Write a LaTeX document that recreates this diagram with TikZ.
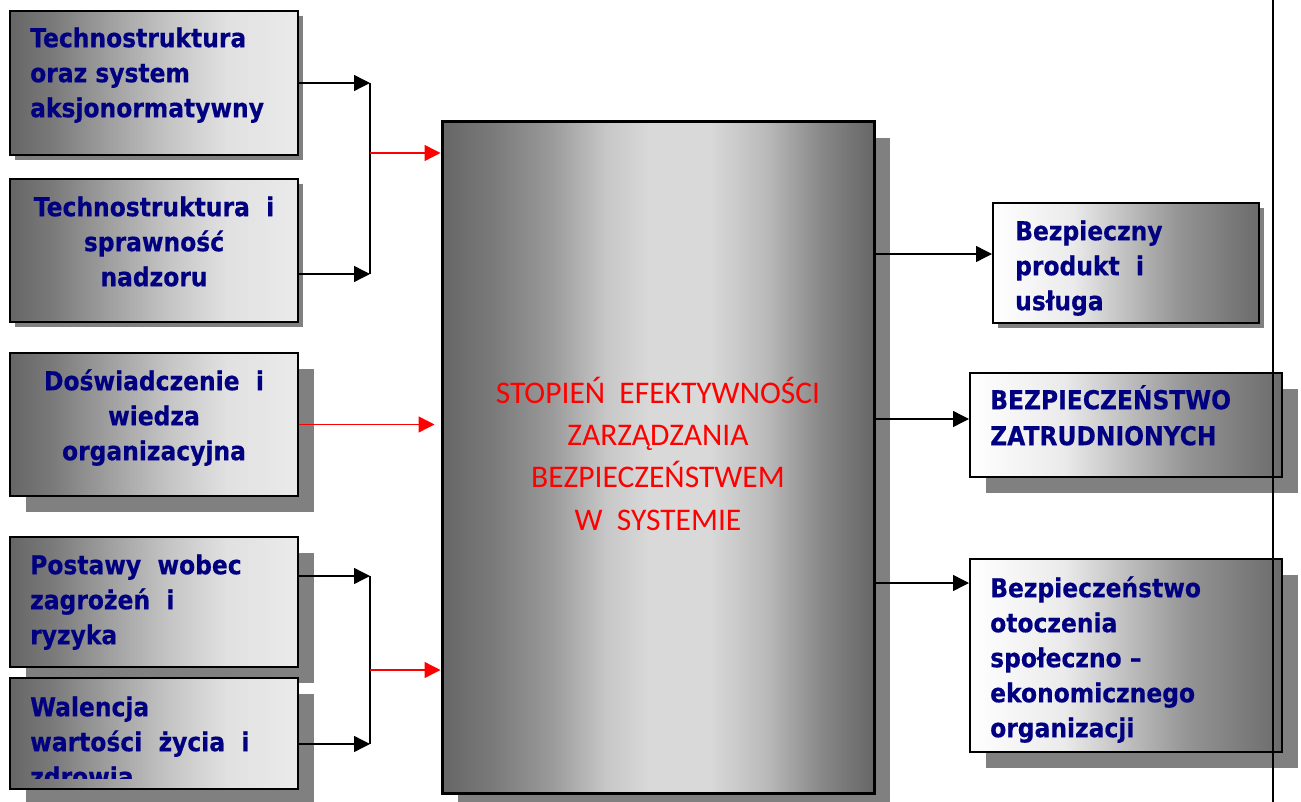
\documentclass[tikz,border=0pt]{standalone}
\usepackage{fontspec}
\setmainfont{DejaVu Sans}
\newfontfamily\carlito{Carlito}
\newfontfamily\boxfont[FakeStretch=0.9,FakeBold=0.5]{DejaVu Sans}
\usetikzlibrary{arrows.meta,shadows}
\definecolor{navyc}{HTML}{000080}
\definecolor{shadc}{HTML}{808080}
\pgfdeclarehorizontalshading{cshade}{100bp}{%
  color(0bp)=(black!60); color(25bp)=(black!60); color(31bp)=(black!52); color(37.5bp)=(black!40);
  color(44bp)=(black!22); color(49bp)=(black!15); color(56bp)=(black!15);
  color(62.5bp)=(black!27); color(69bp)=(black!47); color(75bp)=(black!60); color(100bp)=(black!60)}
\pgfdeclarehorizontalshading{lshade}{100bp}{%
  color(0bp)=(black!60); color(25bp)=(black!60); color(32.5bp)=(black!52); color(42.5bp)=(black!37);
  color(52.5bp)=(black!23); color(62.5bp)=(black!12); color(75bp)=(black!8); color(100bp)=(black!8)}
\pgfdeclarehorizontalshading{rshade}{100bp}{%
  color(0bp)=(white); color(25bp)=(white); color(40bp)=(black!8); color(50bp)=(black!25);
  color(60bp)=(black!42); color(67.5bp)=(black!50); color(75bp)=(black!58); color(100bp)=(black!58)}
\begin{document}
\begin{tikzpicture}[x=1pt,y=-1pt,
  box/.style={draw=black, line width=2pt, inner sep=0pt, rectangle},
  lbox/.style={box, shading=lshade},
  rbox/.style={box, shading=rshade},
  cbox/.style={box, line width=3pt, shading=cshade},
  shsmall/.style={general shadow={fill=shadc, shadow xshift=5pt, shadow yshift=-5pt}},
  shbig/.style={general shadow={fill=shadc, shadow xshift=16pt, shadow yshift=-16pt}},
  boxtxt/.style={inner sep=0pt, text=navyc, font=\boxfont\fontsize{26pt}{35pt}\selectfont\bfseries},
  ltxt/.style={boxtxt, align=left, anchor=north west},
  ctxt/.style={boxtxt, align=center, anchor=north},
  arr/.style={draw=black, line width=1.4pt, -{Triangle[length=16pt,width=16pt]}},
  rarr/.style={draw=red, line width=1.4pt, -{Triangle[length=16pt,width=16pt]}},
  jline/.style={draw=black, line width=1.5pt}
]
\useasboundingbox (0,0) rectangle (1301,802);
% left boxes
\node[lbox, shsmall, minimum width=288pt, minimum height=144pt] (b1) at (154,83) {};
\node[lbox, shsmall, minimum width=288pt, minimum height=143pt] (b2) at (154,250.5) {};
\node[lbox, shbig, minimum width=288pt, minimum height=143pt] (b3) at (154,424.5) {};
\node[lbox, shbig, minimum width=288pt, minimum height=130pt] (b4) at (154,602) {};
\node[lbox, shbig, minimum width=288pt, minimum height=111pt] (b5) at (154,733.5) {};
% centre box
\node[cbox, shbig, minimum width=432pt, minimum height=671pt] (cm) at (658,457.5) {};
% right boxes
\node[rbox, shsmall, minimum width=266pt, minimum height=120pt] (r1) at (1126,263) {};
\node[rbox, shbig, minimum width=312pt, minimum height=104pt] (r2) at (1126,425) {};
\node[rbox, shbig, minimum width=312pt, minimum height=193pt] (r3) at (1126,655.5) {};
% texts
\node[ltxt] (t1) at (30,21) {\rule{0pt}{26pt}Technostruktura\\oraz system\\aksjonormatywny};
\node[ctxt] (t2) at (154,190) {\rule{0pt}{26pt}Technostruktura\ \ i\\sprawność\\nadzoru};
\node[ctxt] (t3) at (154,364) {\rule{0pt}{26pt}Doświadczenie\ \ i\\wiedza\\organizacyjna};
\node[ltxt] (t4) at (30,548) {\rule{0pt}{26pt}Postawy\ \ wobec\\zagrożeń\ \ i\\ryzyka};
\begin{scope}
\clip (10,678) rectangle (298,778);
\node[ltxt] (t5) at (30,690) {\rule{0pt}{26pt}Walencja\\wartości\ \ życia\ \ i\\zdrowia};
\end{scope}
\node[ltxt] (tr1) at (1015,214) {\rule{0pt}{26pt}Bezpieczny\\produkt\ \ i\\usługa};
\node[ltxt, font=\boxfont\fontsize{26pt}{36pt}\selectfont\bfseries] (tr2) at (990,383) {\rule{0pt}{26pt}BEZPIECZEŃSTWO\\ZATRUDNIONYCH};
\node[ltxt] (tr3) at (990,571) {\rule{0pt}{26pt}Bezpieczeństwo\\otoczenia\\społeczno –\\ekonomicznego\\organizacji};
\node[inner sep=0pt, anchor=north, align=center, text=red, font=\carlito\fontsize{31.5pt}{42.3pt}\selectfont] (tc) at (658,371)
  {\rule{0pt}{32pt}STOPIEŃ\ \ EFEKTYWNOŚCI\\ZARZĄDZANIA\\BEZPIECZEŃSTWEM\\W\ \ SYSTEMIE};
% junctions
\coordinate (j1a) at (370,83);
\coordinate (j1b) at (370,274);
\coordinate (j1m) at (370,153);
\coordinate (j2a) at (370,576);
\coordinate (j2b) at (370,744);
\coordinate (j2m) at (370,670);
\coordinate (y1) at (1000,254);
\coordinate (y2) at (1000,419);
\coordinate (y3) at (1000,583);
% connectors
\draw[arr] (b1.east) -- (j1a);
\draw[arr] (b2.east |- j1b) -- (j1b);
\draw[jline] (j1a) -- (j1b);
\draw[rarr] (j1m) -- (cm.west |- j1m);
\draw[rarr, shorten >=6pt] (b3.east) -- (cm.west |- b3.east);
\draw[arr] (b4.east |- j2a) -- (j2a);
\draw[arr] (b5.east |- j2b) -- (j2b);
\draw[jline] (j2a) -- (j2b);
\draw[rarr] (j2m) -- (cm.west |- j2m);
\draw[arr] (cm.east |- y1) -- (r1.west |- y1);
\draw[arr] (cm.east |- y2) -- (r2.west |- y2);
\draw[arr] (cm.east |- y3) -- (r3.west |- y3);
% vertical rule on the right
\coordinate (vt) at (1273,0);
\coordinate (vb) at (1273,802);
\draw[line width=2pt] (vt) -- (vb);
\end{tikzpicture}
\end{document}
